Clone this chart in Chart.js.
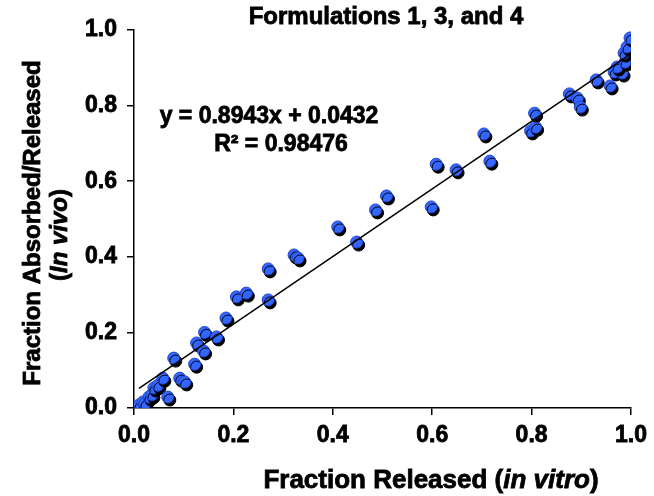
<!DOCTYPE html>
<html>
<head>
<meta charset="utf-8">
<script src="https://cdn.jsdelivr.net/npm/chart.js@4.4.1/dist/chart.umd.min.js"></script>
<style>
  html, body { margin: 0; padding: 0; background: #fff; }
  #wrap { width: 654px; height: 496px; position: relative; }
</style>
</head>
<body>
<div id="wrap"><canvas id="ivivc"></canvas></div>
<script>
// in vitro fraction released vs in vivo fraction absorbed (formulations 1, 3 and 4)
const releasedInVitro = [
  0.010, 0.018, 0.022, 0.030, 0.036, 0.040, 0.048, 0.058, 0.068, 0.080,
  0.092, 0.102, 0.122, 0.126, 0.140, 0.142, 0.166, 0.185, 0.206, 0.226,
  0.270, 0.270, 0.322, 0.330, 0.410, 0.448, 0.486, 0.508, 0.598, 0.608,
  0.648, 0.704, 0.716, 0.798, 0.808, 0.806, 0.876, 0.892, 0.898, 0.930,
  0.958, 0.966, 0.982, 0.972, 0.988, 0.986, 0.992, 0.998
];
const absorbedInVivo = [
  0.008, 0.016, 0.012, 0.029, 0.035, 0.053, 0.060, 0.079, 0.029, 0.132,
  0.079, 0.069, 0.116, 0.172, 0.151, 0.200, 0.188, 0.238, 0.294, 0.304,
  0.286, 0.368, 0.405, 0.397, 0.479, 0.439, 0.524, 0.561, 0.532, 0.645,
  0.630, 0.725, 0.653, 0.733, 0.743, 0.780, 0.831, 0.820, 0.796, 0.868,
  0.852, 0.889, 0.886, 0.902, 0.915, 0.939, 0.955, 0.979
];
const tickValues = [0, 0.2, 0.4, 0.6, 0.8, 1.0];

// linear trend line
const fitSlope = 0.8943;
const fitIntercept = 0.0432;
const fitR2 = "0.98476";

const points = releasedInVitro.map((x, i) => ({ x: x, y: absorbedInVivo[i] }));
const xMin = Math.min(...releasedInVitro);
const xMax = Math.max(...releasedInVitro);
const trend = [xMin, xMax].map(x => ({ x: x, y: fitSlope * x + fitIntercept }));

const FONT = "'Liberation Sans', Arial, sans-serif";

// black drop shadow behind the markers
const markerShadow = {
  id: "markerShadow",
  beforeDatasetDraw(chart, args) {
    if (args.index !== 1) return;
    const ctx = chart.ctx;
    ctx.save();
    ctx.shadowColor = "#000";
    ctx.shadowOffsetX = 2;
    ctx.shadowOffsetY = 3;
    ctx.shadowBlur = 0;
  },
  afterDatasetDraw(chart, args) {
    if (args.index !== 1) return;
    chart.ctx.restore();
  },
};

// one line of heavy text made of bold / bold-italic pieces, centred on (cx, cy)
function mixedText(ctx, parts, cx, cy, size) {
  let total = 0;
  parts.forEach(p => {
    ctx.font = (p.italic ? "italic " : "") + "bold " + size + "px " + FONT;
    p.w = ctx.measureText(p.text).width;
    total += p.w;
  });
  let x = cx - total / 2;
  ctx.textAlign = "left";
  ctx.textBaseline = "middle";
  ctx.strokeStyle = "#000";
  ctx.lineWidth = 0.8;
  parts.forEach(p => {
    ctx.font = (p.italic ? "italic " : "") + "bold " + size + "px " + FONT;
    ctx.fillText(p.text, x, cy);
    ctx.strokeText(p.text, x, cy);
    x += p.w;
  });
}

const labels = {
  id: "labels",
  afterDraw(chart) {
    const ctx = chart.ctx;
    ctx.save();
    ctx.fillStyle = "#000";

    // title
    mixedText(ctx, [{ text: "Formulations 1, 3, and 4" }], 386, 17, 24);

    // regression equation
    mixedText(ctx, [{ text: "y = " + fitSlope + "x + " + fitIntercept }], 269, 117, 23);
    mixedText(ctx, [{ text: "R\u00B2 = " + fitR2 }], 281, 145, 23);

    // x axis title
    mixedText(ctx, [
      { text: "Fraction Released (" },
      { text: "in vitro", italic: true },
      { text: ")" },
    ], 431, 481, 26);

    // y axis title, two rotated lines
    ctx.save();
    ctx.translate(33, 223);
    ctx.rotate(-Math.PI / 2);
    mixedText(ctx, [{ text: "Fraction Absorbed/Released" }], 0, 0, 24);
    ctx.restore();
    ctx.translate(60, 235);
    ctx.rotate(-Math.PI / 2);
    mixedText(ctx, [
      { text: "(" },
      { text: "In vivo", italic: true },
      { text: ")" },
    ], 0, 0, 24);
    ctx.restore();
  },
};

const tickStyle = {
  color: "#000",
  font: { family: FONT, size: 23, weight: "bold" },
  textStrokeColor: "#000",
  textStrokeWidth: 0.8,
  callback: v => v.toFixed(1),
};

new Chart(document.getElementById("ivivc"), {
  type: "scatter",
  data: {
    datasets: [
      {
        type: "line",
        data: trend,
        borderColor: "#000",
        borderWidth: 1.5,
        pointRadius: 0,
        fill: false,
      },
      {
        data: points,
        backgroundColor: "#3366ff",
        borderColor: "#2244cc",
        borderWidth: 1,
        pointRadius: 6,
        pointHoverRadius: 6,
      },
    ],
  },
  options: {
    responsive: true,
    maintainAspectRatio: false,
    animation: false,
    layout: { padding: { top: 30, right: 20, bottom: 0, left: 0 } },
    plugins: {
      legend: { display: false },
      tooltip: { enabled: false },
      title: { display: false },
    },
    scales: {
      x: {
        type: "linear",
        min: 0,
        max: 1,
        afterBuildTicks: s => { s.ticks = tickValues.map(v => ({ value: v })); },
        afterFit: s => { s.height = 88; },
        border: { display: true, color: "#000", width: 1.5 },
        grid: { drawOnChartArea: false, drawTicks: true, tickLength: 7, color: "#000", lineWidth: 1.5 },
        ticks: Object.assign({ padding: 7 }, tickStyle),
      },
      y: {
        type: "linear",
        min: 0,
        max: 1,
        afterBuildTicks: s => { s.ticks = tickValues.map(v => ({ value: v })); },
        afterFit: s => { s.width = 134; },
        border: { display: true, color: "#000", width: 1.5 },
        grid: { drawOnChartArea: false, drawTicks: true, tickLength: 7, color: "#000", lineWidth: 1.5 },
        ticks: Object.assign({ padding: 10 }, tickStyle),
      },
    },
  },
  plugins: [markerShadow, labels],
});
</script>
</body>
</html>
